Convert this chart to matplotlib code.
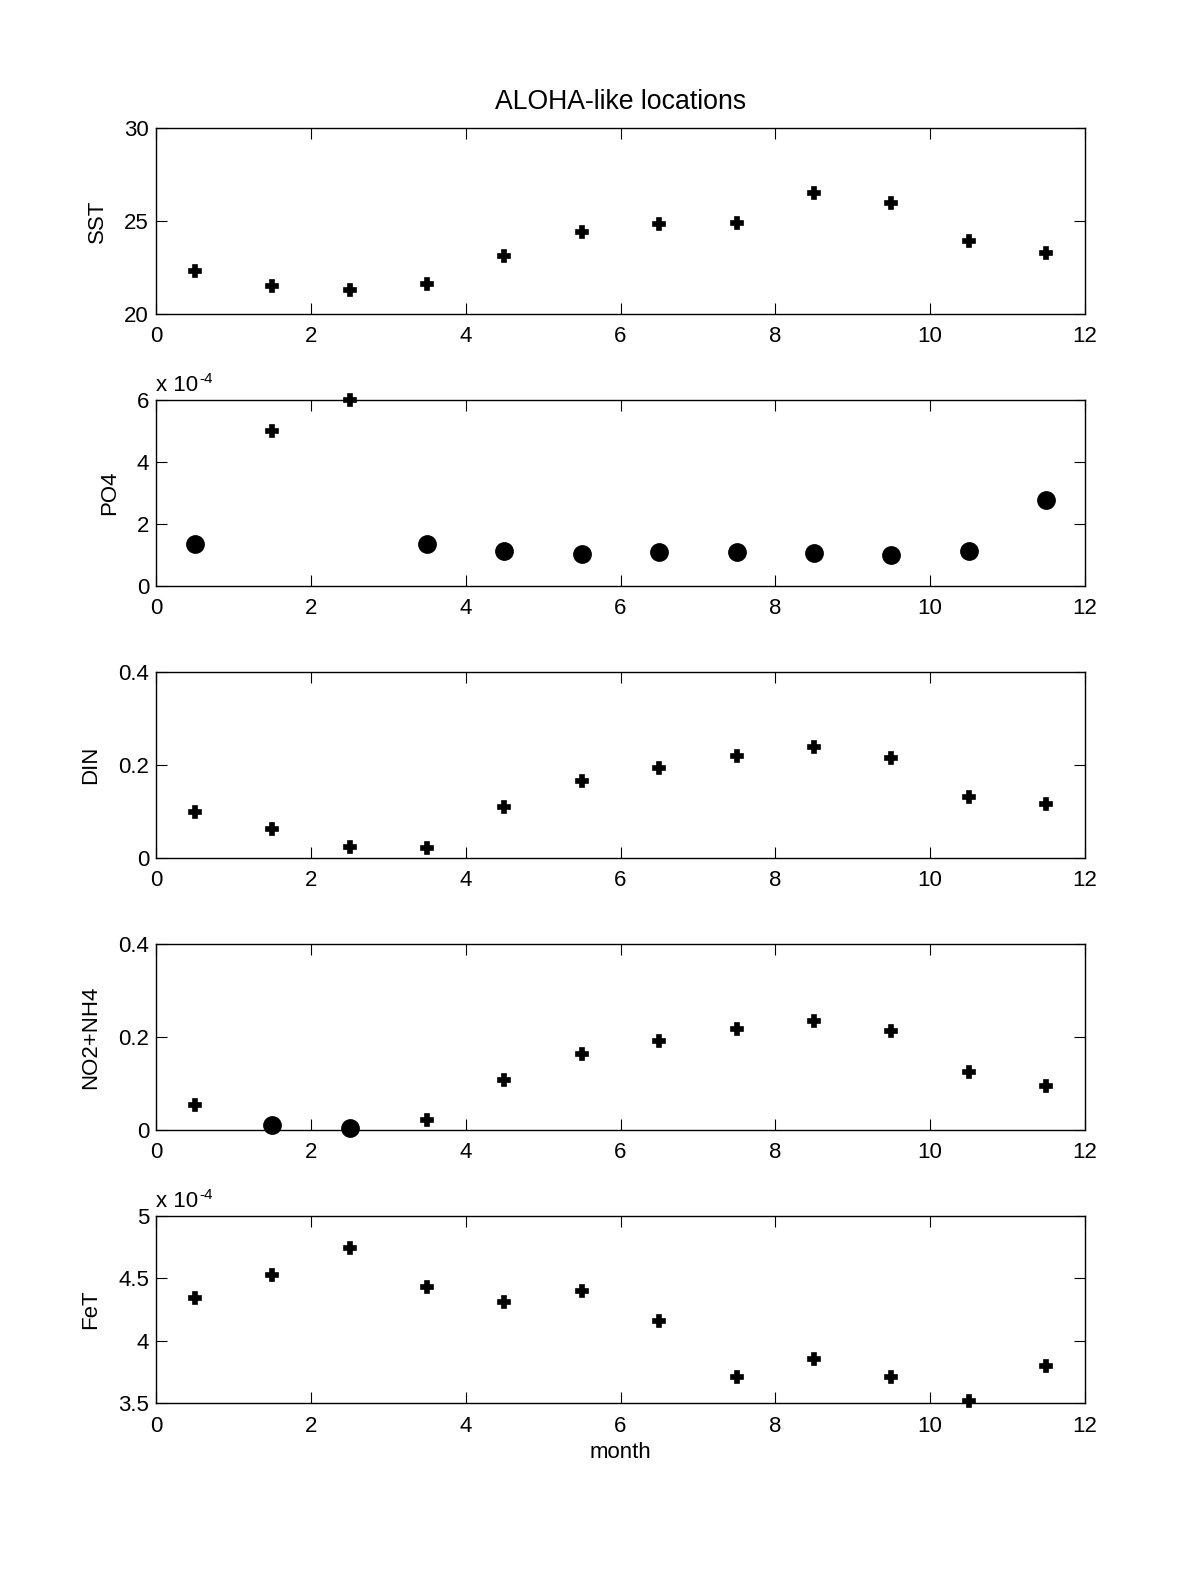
import matplotlib.pyplot as plt
import numpy as np
from matplotlib.ticker import FuncFormatter

plt.rcParams.update({
    'font.family': ['Liberation Sans', 'DejaVu Sans'],
    'font.size': 16,
    'xtick.direction': 'in',
    'ytick.direction': 'in',
    'xtick.major.size': 8,
    'ytick.major.size': 8,
    'xtick.top': True,
    'ytick.right': True,
    'axes.linewidth': 1.0,
})

months = np.arange(0.5, 12, 1.0)

# values; NaN where that marker type is absent
sst_plus = [22.3, 21.5, 21.3, 21.6, 23.1, 24.4, 24.85, 24.9, 26.5, 25.95, 23.95, 23.3]

po4_plus = [np.nan, 5.0e-4, 6.0e-4] + [np.nan] * 9
po4_circ = [1.36e-4, np.nan, np.nan, 1.36e-4, 1.14e-4, 1.04e-4, 1.1e-4, 1.1e-4,
            1.07e-4, 1.0e-4, 1.14e-4, 2.76e-4]

din_plus = [0.100, 0.063, 0.024, 0.022, 0.110, 0.166, 0.194, 0.220, 0.238, 0.214, 0.132, 0.117]

nn_plus = [0.054, np.nan, np.nan, 0.022, 0.108, 0.164, 0.192, 0.218, 0.235, 0.212, 0.125, 0.095]
nn_circ = [np.nan, 0.011, 0.004] + [np.nan] * 9

fet_plus = [4.34e-4, 4.53e-4, 4.74e-4, 4.43e-4, 4.31e-4, 4.40e-4, 4.16e-4, 3.71e-4,
            3.85e-4, 3.71e-4, 3.52e-4, 3.80e-4]

panels = [
    ("SST", sst_plus, None, (20, 30), [20, 25, 30], 1),
    ("PO4", po4_plus, po4_circ, (0, 6e-4), [0, 2e-4, 4e-4, 6e-4], 1e-4),
    ("DIN", din_plus, None, (0, 0.4), [0, 0.2, 0.4], 1),
    ("NO2+NH4", nn_plus, nn_circ, (0, 0.4), [0, 0.2, 0.4], 1),
    ("FeT", fet_plus, None, (3.5e-4, 5e-4), [3.5e-4, 4e-4, 4.5e-4, 5e-4], 1e-4),
]

W, H = 1200.0, 1576.0
bounds = [(128, 314), (400, 586), (672, 858), (944, 1130), (1216, 1403)]

fig = plt.figure(figsize=(12, 15.76), dpi=100)

for (label, plus, circ, ylim, yticks, scale), (top, bot) in zip(panels, bounds):
    ax = fig.add_axes([156 / W, 1 - bot / H, (1085 - 156) / W, (bot - top) / H])
    ax.plot(months, plus, 'P', color='k', markersize=9, markeredgewidth=1.2, clip_on=False)
    if circ is not None:
        ax.plot(months, circ, 'o', color='k', markersize=12.5, markeredgewidth=1, clip_on=False)
    ax.set_xlim(0, 12)
    ax.set_xticks(range(0, 13, 2))
    ax.set_ylim(*ylim)
    ax.set_yticks(yticks)
    ax.yaxis.set_major_formatter(FuncFormatter(lambda v, p, s=scale: f"{round(v / s, 6):g}"))
    ax.set_ylabel(label, labelpad=12)
    ax.tick_params(axis='x', pad=9)
    ax.tick_params(axis='y', pad=5)
    if scale != 1:
        t = ax.annotate("x 10", xy=(0, 1), xycoords='axes fraction', xytext=(0, 3),
                        textcoords='offset points', ha='left', va='bottom')
        ax.annotate("-4", xy=(1, 1), xycoords=t, xytext=(1, -3), textcoords='offset points',
                    ha='left', va='center', fontsize=11)
    if label == "SST":
        ax.set_title("ALOHA-like locations", pad=14)
    if label == "FeT":
        ax.set_xlabel("month", labelpad=4)

fig.savefig("out.png", dpi=100)
